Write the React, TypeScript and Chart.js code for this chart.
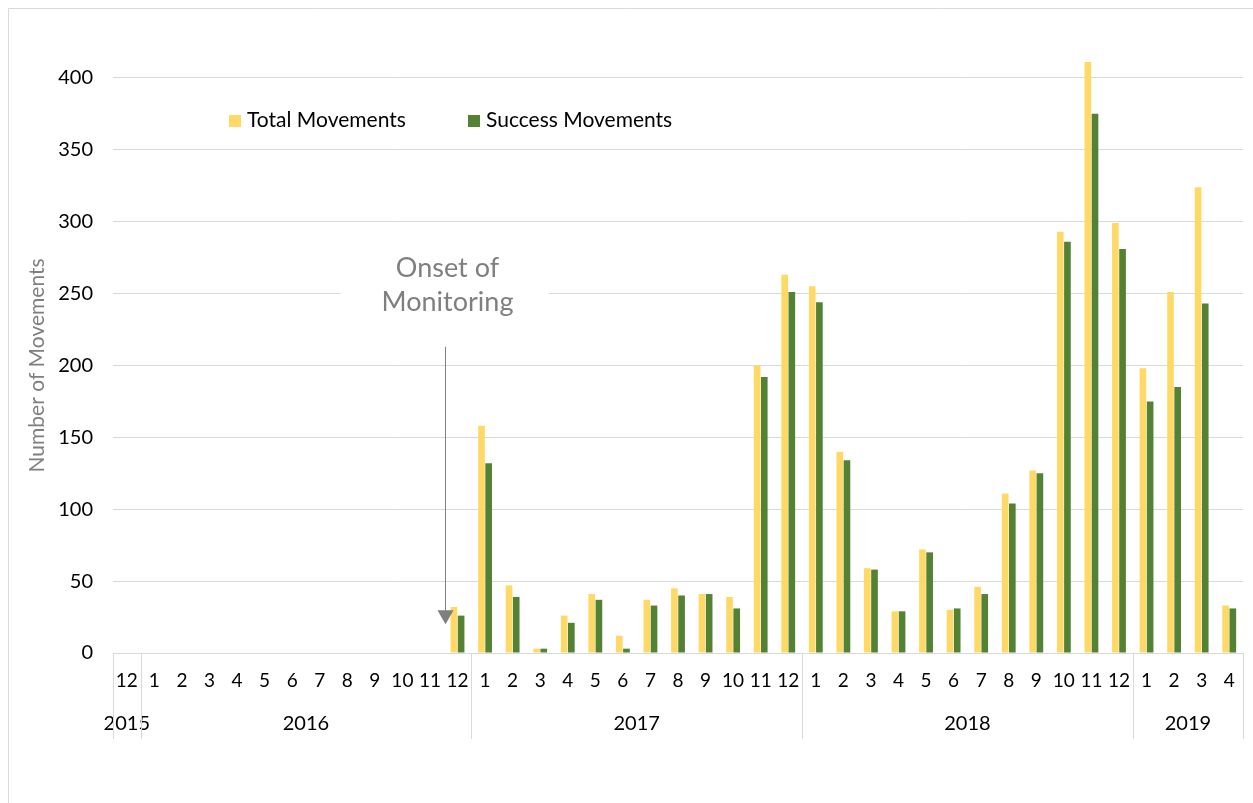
import React, { useEffect, useRef } from 'react';
import { Chart, registerables } from 'chart.js';

Chart.register(...registerables);

// ---- data ----
const monthLabels = [
  '12',
  '1', '2', '3', '4', '5', '6', '7', '8', '9', '10', '11', '12',
  '1', '2', '3', '4', '5', '6', '7', '8', '9', '10', '11', '12',
  '1', '2', '3', '4', '5', '6', '7', '8', '9', '10', '11', '12',
  '1', '2', '3', '4',
];
const yearLabels = ['2015', '2016', '2017', '2018', '2019'];
const monthsPerYear = [1, 12, 12, 12, 4];

const totalMovements = [
  null,
  null, null, null, null, null, null, null, null, null, null, null, 32,
  158, 47, 3, 26, 41, 12, 37, 45, 41, 39, 200, 263,
  255, 140, 59, 29, 72, 30, 46, 111, 127, 293, 411, 299,
  198, 251, 324, 33,
];
const successMovements = [
  null,
  null, null, null, null, null, null, null, null, null, null, null, 26,
  132, 39, 3, 21, 37, 3, 33, 40, 41, 31, 192, 251,
  244, 134, 58, 29, 70, 31, 41, 104, 125, 286, 375, 281,
  175, 185, 243, 31,
];
const seriesNames = ['Total Movements', 'Success Movements'];
const seriesColors = ['#FFD966', '#548235'];

const yAxisTitle = 'Number of Movements';
const yMax = 450;
const yTopTick = 400;
const yStep = 50;

const annotationLines = ['Onset of', 'Monitoring'];
const annotationIndex = 12; // arrow sits at the start of 2016-12
const annotationArrowFrom = 213;
const annotationArrowTo = 20;
const annotationTextValue = 256;

const FONT = "Lato, 'Open Sans', sans-serif";
const GRID = '#d9d9d9';
const TEXT = '#000000';
const GRAY = '#7f7f7f';

const decorPlugin = {
  id: 'decor',
  beforeDatasetsDraw(chart: any) {
    const ctx = chart.ctx;
    const xs = chart.scales.x;
    const ys = chart.scales.y;
    const half = (xs.getPixelForValue(1) - xs.getPixelForValue(0)) / 2;
    const ax = xs.getPixelForValue(annotationIndex) - half + 1;
    const ty = ys.getPixelForValue(annotationTextValue);
    ctx.save();
    ctx.fillStyle = '#ffffff';
    ctx.fillRect(ax - 104, ty - 36, 208, 72);
    ctx.restore();
  },
  afterDraw(chart: any) {
    const ctx = chart.ctx;
    const xs = chart.scales.x;
    const ys = chart.scales.y;
    const area = chart.chartArea;
    const half = (xs.getPixelForValue(1) - xs.getPixelForValue(0)) / 2;
    ctx.save();

    // outer chart border (cropped on right/bottom)
    ctx.strokeStyle = GRID;
    ctx.lineWidth = 1;
    ctx.beginPath();
    ctx.moveTo(8.5, 803);
    ctx.lineTo(8.5, 8.5);
    ctx.lineTo(1253, 8.5);
    ctx.stroke();

    // axis line
    ctx.beginPath();
    ctx.moveTo(area.left, Math.round(area.bottom) + 0.5);
    ctx.lineTo(area.right, Math.round(area.bottom) + 0.5);
    ctx.stroke();

    // year group separators and labels
    let idx = 0;
    const boundaries: number[] = [];
    ctx.font = `20px ${FONT}`;
    ctx.fillStyle = TEXT;
    ctx.textAlign = 'center';
    ctx.textBaseline = 'middle';
    monthsPerYear.forEach((n, k) => {
      const left = xs.getPixelForValue(idx) - half;
      const right = xs.getPixelForValue(idx + n - 1) + half;
      if (k === 0) boundaries.push(left);
      boundaries.push(right);
      ctx.fillText(yearLabels[k], (left + right) / 2, 724);
      idx += n;
    });
    ctx.beginPath();
    boundaries.forEach((b) => {
      const x = Math.round(b) + 0.5;
      ctx.moveTo(x, area.bottom);
      ctx.lineTo(x, 739);
    });
    ctx.stroke();

    // y axis title
    const yMid = (ys.getPixelForValue(0) + ys.getPixelForValue(yTopTick)) / 2;
    ctx.save();
    ctx.translate(37, yMid);
    ctx.rotate(-Math.PI / 2);
    ctx.font = `21px ${FONT}`;
    ctx.fillStyle = GRAY;
    ctx.textAlign = 'center';
    ctx.textBaseline = 'middle';
    ctx.fillText(yAxisTitle, 0, 0);
    ctx.restore();

    // legend
    const legendX = [229, 468];
    ctx.font = `21px ${FONT}`;
    ctx.textAlign = 'left';
    ctx.textBaseline = 'middle';
    chart.data.datasets.forEach((ds: any, i: number) => {
      ctx.fillStyle = ds.backgroundColor;
      ctx.fillRect(legendX[i], 115, 12, 12);
      ctx.fillStyle = TEXT;
      ctx.fillText(ds.label, legendX[i] + 18, 120);
    });

    // annotation
    const ax = Math.round(xs.getPixelForValue(annotationIndex) - half) + 1.5;
    const ty = ys.getPixelForValue(annotationTextValue);
    ctx.font = `27px ${FONT}`;
    ctx.fillStyle = GRAY;
    ctx.textAlign = 'center';
    ctx.textBaseline = 'middle';
    ctx.fillText(annotationLines[0], ax + 2, ty - 17);
    ctx.fillText(annotationLines[1], ax + 2, ty + 17);

    const y1 = ys.getPixelForValue(annotationArrowFrom);
    const y2 = ys.getPixelForValue(annotationArrowTo);
    ctx.strokeStyle = GRAY;
    ctx.lineWidth = 1;
    ctx.beginPath();
    ctx.moveTo(ax, y1);
    ctx.lineTo(ax, y2 - 12);
    ctx.stroke();
    ctx.fillStyle = GRAY;
    ctx.beginPath();
    ctx.moveTo(ax - 8, y2 - 14);
    ctx.lineTo(ax + 8, y2 - 14);
    ctx.lineTo(ax, y2);
    ctx.closePath();
    ctx.fill();

    ctx.restore();
  },
};

export default function App() {
  const canvasRef = useRef<HTMLCanvasElement | null>(null);

  useEffect(() => {
    if (!canvasRef.current) return;
    const chart = new Chart(canvasRef.current, {
      type: 'bar',
      data: {
        labels: monthLabels,
        datasets: [
          {
            label: seriesNames[0],
            data: totalMovements as any,
            backgroundColor: seriesColors[0],
            borderWidth: 0,
            categoryPercentage: 0.52,
            barPercentage: 0.93,
          },
          {
            label: seriesNames[1],
            data: successMovements as any,
            backgroundColor: seriesColors[1],
            borderWidth: 0,
            categoryPercentage: 0.52,
            barPercentage: 0.93,
          },
        ],
      },
      options: {
        responsive: false,
        devicePixelRatio: 1,
        animation: false,
        layout: { padding: { left: 0, right: 10, top: 6, bottom: 0 } },
        plugins: {
          legend: { display: false },
          tooltip: { enabled: false },
        },
        scales: {
          x: {
            grid: { display: false, drawTicks: false },
            border: { display: false },
            ticks: {
              autoSkip: false,
              maxRotation: 0,
              minRotation: 0,
              padding: 16,
              color: TEXT,
              font: { family: FONT, size: 19 },
            },
            afterFit: (scale: any) => {
              scale.height = 150;
              scale.paddingLeft = 0;
              scale.paddingRight = 0;
            },
          },
          y: {
            min: 0,
            max: yMax,
            grid: { color: GRID, drawTicks: false },
            border: { display: false },
            ticks: {
              stepSize: yStep,
              padding: 20,
              color: TEXT,
              font: { family: FONT, size: 20 },
              callback: (v: any) => (v > yTopTick ? null : v),
            },
            afterFit: (scale: any) => {
              scale.width = 113;
              scale.paddingTop = 0;
              scale.paddingBottom = 0;
            },
          },
        },
      },
      plugins: [decorPlugin],
    });
    return () => chart.destroy();
  }, []);

  return (
    <div style={{ position: 'fixed', left: 0, top: 0, width: 1253, height: 803, background: '#ffffff', overflow: 'hidden' }}>
      <canvas ref={canvasRef} width={1253} height={803} style={{ display: 'block', width: 1253, height: 803 }} />
    </div>
  );
}
